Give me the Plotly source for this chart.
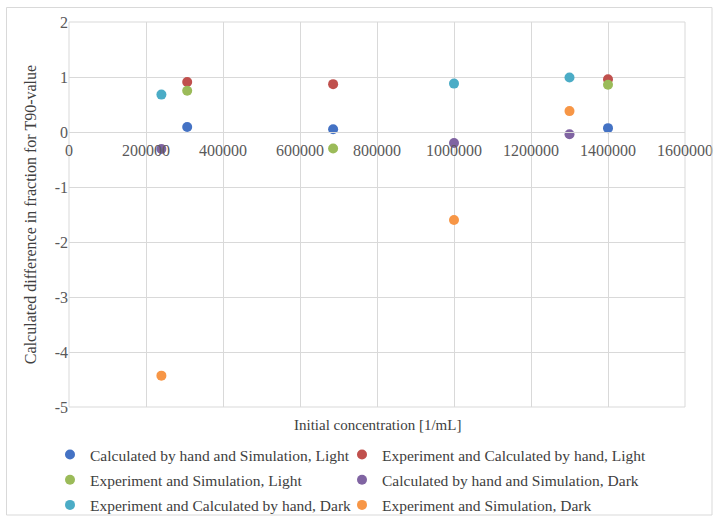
import plotly.graph_objects as go

x_light = [307000, 686000, 1400000]
x_dark = [240000, 1000000, 1300000]

calc_sim_light = [0.09, 0.05, 0.07]
exp_calc_light = [0.91, 0.87, 0.96]
exp_sim_light = [0.75, -0.30, 0.86]
calc_sim_dark = [-0.31, -0.20, -0.04]
exp_calc_dark = [0.68, 0.88, 0.99]
exp_sim_dark = [-4.43, -1.60, 0.38]

series = [
    ("Calculated by hand and Simulation, Light", x_light, calc_sim_light, "#4472C4", "legend"),
    ("Experiment and Calculated by hand, Light", x_light, exp_calc_light, "#C0504D", "legend2"),
    ("Experiment and Simulation, Light", x_light, exp_sim_light, "#9BBB59", "legend"),
    ("Calculated by hand and Simulation, Dark", x_dark, calc_sim_dark, "#8064A2", "legend2"),
    ("Experiment and Calculated by hand, Dark", x_dark, exp_calc_dark, "#4BACC6", "legend"),
    ("Experiment and Simulation, Dark", x_dark, exp_sim_dark, "#F79646", "legend2"),
]

x_ticks = [0, 200000, 400000, 600000, 800000, 1000000, 1200000, 1400000, 1600000]
y_ticks = [-5, -4, -3, -2, -1, 0, 1, 2]

fig = go.Figure()
for i, (name, xs, ys, col, leg) in enumerate(series):
    fig.add_trace(go.Scatter(x=xs, y=ys, mode="markers", name=name, legend=leg,
                             legendgroup=f"g{i}",
                             marker=dict(color=col, size=10, line=dict(width=0))))

font = "Liberation Serif, Times New Roman, serif"
W, H = 715, 519
L, R, T, B = 69, 30, 22, 112
pw, ph = W - L - R, H - T - B

def px_x(v):
    return (v - L) / pw

def px_y(v):
    return (H - B - v) / ph

leg_font = dict(family=font, size=15.5, color="#404040")
leg_common = dict(orientation="v", yanchor="top", xanchor="left", itemwidth=30,
                  font=leg_font, bgcolor="rgba(0,0,0,0)", tracegroupgap=2)

fig.update_layout(
    width=W, height=H,
    margin=dict(l=L, r=R, t=T, b=B, autoexpand=False),
    paper_bgcolor="white", plot_bgcolor="white",
    font=dict(family=font, size=16, color="#595959"),
    showlegend=True,
    legend=dict(x=px_x(50), y=px_y(438), **leg_common),
    legend2=dict(x=px_x(342), y=px_y(438), **leg_common),
    xaxis=dict(range=[0, 1600000], tickvals=x_ticks, ticktext=[str(v) for v in x_ticks],
               showgrid=True, gridcolor="#d9d9d9", gridwidth=1,
               zeroline=False, showline=True, linecolor="#d9d9d9",
               anchor="free", position=5/7, ticks="", mirror=False,
               ticklabelstandoff=4, automargin=False,
               tickfont=dict(size=16, color="#595959")),
    yaxis=dict(range=[-5, 2], tickvals=y_ticks, ticktext=[str(v) for v in y_ticks],
               showgrid=True, gridcolor="#d9d9d9",
               zeroline=False, showline=False, ticks="", domain=[0, 1], automargin=False,
               title=dict(text="Calculated difference in fraction for T90-value",
                          font=dict(size=16, color="#404040"), standoff=14),
               tickfont=dict(size=16, color="#595959")),
    annotations=[dict(text="Initial concentration [1/mL]", xref="paper", yref="paper",
                      x=0.5, y=-0.0195, xanchor="center", yanchor="top", showarrow=False,
                      font=dict(family=font, size=15, color="#404040"))],
    shapes=[dict(type="rect", xref="paper", yref="paper", x0=px_x(6.5), x1=px_x(712),
                 y0=px_y(515), y1=px_y(7.5), line=dict(color="#d9d9d9", width=1))],
)
fig.add_shape(type="rect", xref="paper", yref="paper", x0=0, x1=1, y0=0, y1=1,
              line=dict(color="#d9d9d9", width=1), layer="below")

fig.write_html("out.html", config={"displayModeBar": False},
               post_script="document.body.style.margin='0';document.body.style.overflow='hidden';")
